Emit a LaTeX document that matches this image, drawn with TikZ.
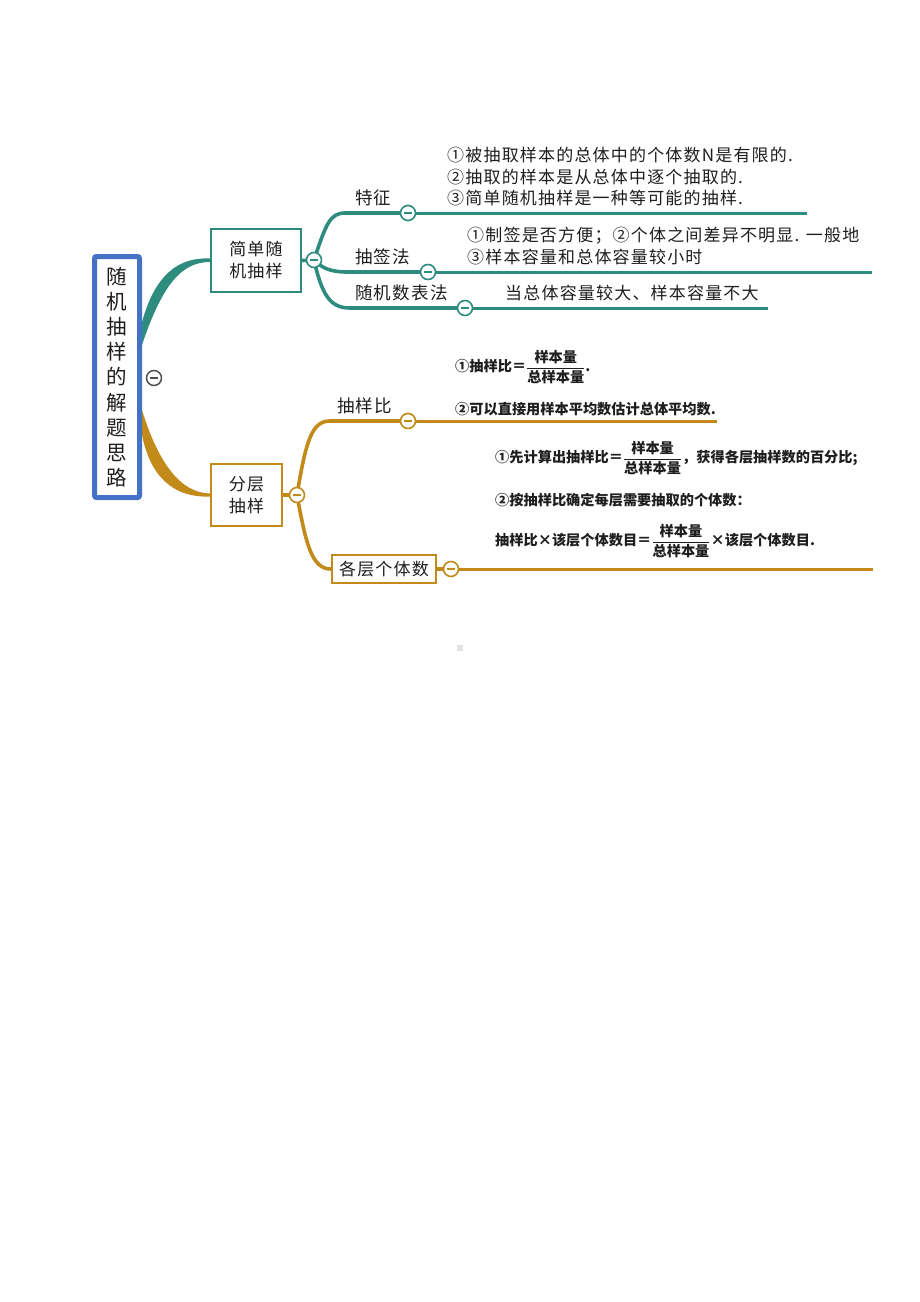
\documentclass[tikz,border=0pt]{standalone}
\usepackage{fontspec}
\usepackage{amsmath}
\setmainfont{Noto Sans CJK SC}
\newfontfamily\spcd{Noto Sans CJK SC}[LetterSpace=7]
\usetikzlibrary{calc,backgrounds}
\definecolor{teal1}{RGB}{45,140,126}
\definecolor{gold1}{RGB}{194,138,24}
\definecolor{blue1}{RGB}{68,114,196}
\definecolor{txt}{RGB}{30,30,30}
\definecolor{greyc}{RGB}{80,80,80}
\begin{document}
\begin{tikzpicture}[x=1pt,y=-1pt,
  box/.style={draw, fill=white, line width=1.6pt, inner sep=0pt, align=center, text=txt, font=\spcd\fontsize{17}{22}\selectfont},
  tc/.style={circle, draw=#1, fill=white, line width=1.6pt, minimum size=15pt, inner sep=0pt,
     path picture={\draw[#1, line width=1.6pt] ([xshift=-4pt]path picture bounding box.center) -- ([xshift=4pt]path picture bounding box.center);}},
  lbl/.style={anchor=west, inner sep=0pt, text=txt, font=\spcd\fontsize{17.5}{22}\selectfont},
  body/.style={anchor=west, inner sep=0pt, align=left, text=txt, font=\spcd\fontsize{17}{21.5}\selectfont},
  bbody/.style={anchor=west, inner sep=0pt, text=txt, font=\fontsize{14.2}{17}\selectfont\bfseries},
  hl/.style={line width=3pt},
  br/.style={line width=3.6pt}
]
\useasboundingbox (0,0) rectangle (920,1302);

% root
\node[draw=blue1, line width=5pt, rounded corners=2pt, fill=white, minimum width=45pt, minimum height=241pt,
  inner sep=0pt, align=center, text=txt, font=\fontsize{20.5}{25.2}\selectfont] (root) at (117,377)
  {随\\机\\抽\\样\\的\\解\\题\\思\\路};
\node[circle, draw=greyc, line width=1.5pt, minimum size=15pt, inner sep=0pt,
  path picture={\draw[greyc, line width=1.6pt] ([xshift=-4pt]path picture bounding box.center) -- ([xshift=4pt]path picture bounding box.center);}] (rc) at (154,378) {};

% ---------- teal branch ----------
\node[box, draw=teal1, minimum width=90.5pt, minimum height=63.5pt] (sbox) at (256,260.5) {简单随\\机抽样};
\node[tc=teal1] (scirc) at (314,260) {};
\node[tc=teal1] (c1) at (408,213) {};
\node[tc=teal1] (c2) at (428,272) {};
\node[tc=teal1] (c3) at (465,308) {};
\coordinate (e1) at (807,213);
\coordinate (e2) at (872,272);
\coordinate (e3) at (768,308);

\node[lbl] (l1) at (355,198) {特征};
\node[lbl] (l2) at (355,257) {抽签法};
\node[lbl] (l3) at (355,293) {随机数表法};

\node[body] (t1) at (447,177) {①被抽取样本的总体中的个体数N是有限的.\\②抽取的样本是从总体中逐个抽取的.\\③简单随机抽样是一种等可能的抽样.};
\node[body] (t2) at (467,246) {①制签是否方便；②个体之间差异不明显. 一般地\\③样本容量和总体容量较小时};
\node[body] (t3) at (505,293) {当总体容量较大、样本容量不大};

% ---------- gold branch ----------
\node[box, draw=gold1, minimum width=71.5pt, minimum height=62.5pt] (fbox) at (246.5,495) {分层\\抽样};
\node[tc=gold1] (fcirc) at (297,495) {};
\node[tc=gold1] (c4) at (408,421) {};
\node[box, draw=gold1, minimum width=104.5pt, minimum height=28.5pt] (gbox) at (384,569) {各层个体数};
\node[tc=gold1] (c5) at (451,569) {};
\coordinate (e4) at (717,421);
\coordinate (e5) at (873,569);

\node[lbl] (l4) at (337,406) {抽样比};

\node[bbody] (g1) at (455,367) {①抽样比＝$\dfrac{\mbox{样本量}}{\mbox{总样本量}}$.};
\node[bbody] (g2) at (455,409) {②可以直接用样本平均数估计总体平均数.};
\node[bbody] (g3) at (495,458) {①先计算出抽样比＝$\dfrac{\mbox{样本量}}{\mbox{总样本量}}$，获得各层抽样数的百分比;};
\node[bbody] (g4) at (495,500) {②按抽样比确定每层需要抽取的个体数：};
\node[bbody] (g5) at (495,541) {抽样比×该层个体数目＝$\dfrac{\mbox{样本量}}{\mbox{总样本量}}$×该层个体数目.};

\fill[gray!22] (457,645) rectangle (463,651);

\begin{pgfonlayer}{background}
  % root to teal box (tapered)
  \fill[teal1] (root.east |- 0,345) .. controls (163,282) and (183,262) .. (sbox.west |- 0,262)
     -- (sbox.west |- 0,258.5) .. controls (178,257) and (155,275) .. (root.east |- 0,322) -- cycle;
  % root to gold box (tapered)
  \fill[gold1] (root.east |- 0,410) .. controls (158,462) and (180,493) .. (fbox.west |- 0,493.5)
     -- (fbox.west |- 0,496.5) .. controls (172,498) and (150,475) .. (root.east |- 0,435) -- cycle;
  \draw[teal1, br] (sbox.east) -- (scirc.center);
  \draw[gold1, br] (fbox.east) -- (fcirc.center);
  % teal sub-branches
  \draw[teal1, br] (scirc.center) .. controls (326,224) and (330,213) .. (345,213) -- (c1.center);
  \draw[teal1, br] (scirc.center) .. controls (322,268) and (330,272) .. (348,272) -- (c2.center);
  \draw[teal1, br] (scirc.center) .. controls (322,295) and (330,308) .. (350,308) -- (c3.center);
  \draw[teal1, hl] (c1.center) -- (e1);
  \draw[teal1, hl] (c2.center) -- (e2);
  \draw[teal1, hl] (c3.center) -- (e3);
  % gold sub-branches
  \draw[gold1, br] (fcirc.center) .. controls (306,440) and (312,421) .. (330,421) -- (c4.center);
  \draw[gold1, br] (fcirc.center) .. controls (306,545) and (312,569) .. (gbox.west);
  \draw[gold1, hl] (c4.center) -- (e4);
  \draw[gold1, hl] (c5.center) -- (e5);
  \draw[gold1, br] (gbox.east) -- (c5.center);
\end{pgfonlayer}
\end{tikzpicture}
\end{document}
